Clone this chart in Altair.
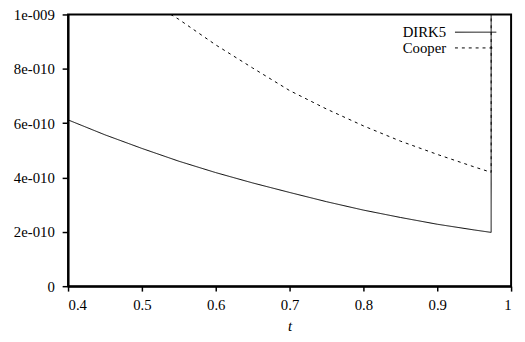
import altair as alt
import pandas as pd

series_names = ["DIRK5", "Cooper"]

t_dirk = [0.4, 0.45, 0.5, 0.55, 0.6, 0.65, 0.7, 0.75, 0.8, 0.85, 0.9, 0.95, 0.973, 0.973]
v_dirk = [6.12e-10, 5.57e-10, 5.07e-10, 4.60e-10, 4.18e-10, 3.80e-10, 3.45e-10,
          3.11e-10, 2.80e-10, 2.53e-10, 2.28e-10, 2.07e-10, 1.98e-10, 1.0e-9]

t_cooper = [0.539, 0.55, 0.6, 0.65, 0.7, 0.75, 0.8, 0.85, 0.9, 0.95, 0.973, 0.973]
v_cooper = [1.0e-9, 9.82e-10, 8.88e-10, 8.03e-10, 7.20e-10, 6.52e-10, 5.90e-10,
            5.34e-10, 4.85e-10, 4.39e-10, 4.19e-10, 1.0e-9]

x_ticks = [0.4, 0.5, 0.6, 0.7, 0.8, 0.9, 1.0]
y_ticks = [0, 2e-10, 4e-10, 6e-10, 8e-10, 1e-9]
y_labels = ["0", "2e-010", "4e-010", "6e-010", "8e-010", "1e-009"]

rows = []
for i, (t, v) in enumerate(zip(t_dirk, v_dirk)):
    rows.append({"t": t, "v": v, "series": "DIRK5", "i": i})
for i, (t, v) in enumerate(zip(t_cooper, v_cooper)):
    rows.append({"t": t, "v": v, "series": "Cooper", "i": i})
df = pd.DataFrame(rows)

# label expression for y axis
expr = "''"
for val, lab in zip(reversed(y_ticks), reversed(y_labels)):
    expr = f"round(datum.value*1e10) == {round(val*1e10)} ? '{lab}' : " + f"({expr})"

FONT = "Liberation Serif"
FS = 15
dashes = {"DIRK5": [1, 0], "Cooper": [3, 4]}

lines = alt.Chart(df).mark_line(color="black", strokeWidth=1, clip=True).encode(
    x=alt.X("t:Q", scale=alt.Scale(domain=[0.4, 1.0], nice=False),
            axis=alt.Axis(values=x_ticks, labelExpr="format(datum.value, '~g')",
                          title="t", titleFontStyle="italic",
                          titleFontWeight="normal", titleFontSize=FS, titlePadding=6,
                          labelFontSize=FS, labelPadding=7,
                          tickSize=5, tickColor="black", tickWidth=1.5,
                          domainColor="black", domainWidth=2, grid=False)),
    y=alt.Y("v:Q", scale=alt.Scale(domain=[0, 1e-9], nice=False),
            axis=alt.Axis(values=y_ticks, labelExpr=expr, title=None,
                          labelFontSize=FS, labelPadding=8,
                          tickSize=6, tickColor="black", tickWidth=1.5,
                          domainColor="black", domainWidth=2, grid=False)),
    strokeDash=alt.StrokeDash("series:N", scale=alt.Scale(domain=series_names,
                              range=[dashes[s] for s in series_names]), legend=None),
    order="i:Q",
)

legend_layers = []
for k, s in enumerate(series_names):
    ypix = 18 + 16 * k
    sub = pd.DataFrame({"series": [s]})
    legend_layers.append(
        alt.Chart(sub).mark_text(align="right", baseline="middle",
                                 fontSize=FS, color="black").encode(
            text="series:N", x=alt.value(384), y=alt.value(ypix))
    )
    legend_layers.append(
        alt.Chart(sub).mark_rule(color="black", strokeWidth=1,
                                 strokeDash=dashes[s]).encode(
            x=alt.value(393), x2=alt.value(435), y=alt.value(ypix))
    )

chart = alt.layer(lines, *legend_layers).properties(
    width=450, height=276,
    autosize=alt.AutoSizeParams(type="none"),
    padding={"left": 61, "top": 4, "right": 6, "bottom": 46},
).configure(
    background="white", font=FONT
).configure_axis(
    labelFont=FONT, titleFont=FONT, labelColor="black", titleColor="black"
).configure_text(font=FONT).configure_view(stroke="black", strokeWidth=2)

chart.save("out.html", embed_options={"renderer": "svg", "actions": False})
